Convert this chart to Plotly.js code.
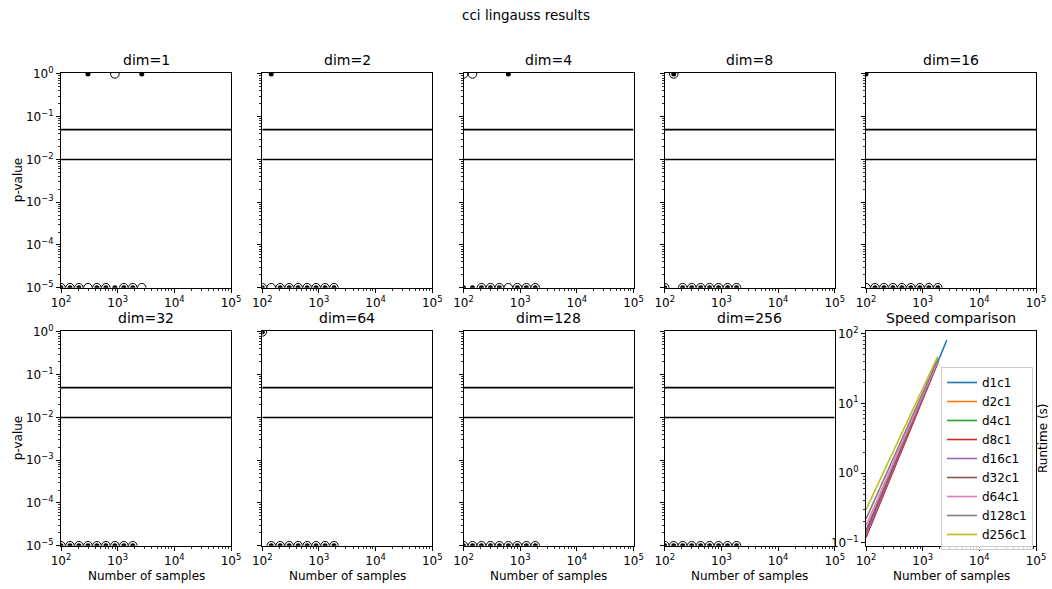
<!DOCTYPE html>
<html><head><meta charset="utf-8">
<script src="https://cdn.plot.ly/plotly-3.0.1.min.js"></script>
<style>body{margin:0;background:#fff}#chart{width:1052px;height:589px}</style>
</head><body><div id="chart"></div>
<script>
const figureTitle = 'cci lingauss results';
const panelTitles = ['dim=1','dim=2','dim=4','dim=8','dim=16','dim=32','dim=64','dim=128','dim=256'];
const speedTitle = 'Speed comparison';
const xTitle = 'Number of samples';
const pTitle = 'p-value';
const runtimeTitle = 'Runtime (s)';

// sample sizes (x)
const samples = [100, 144, 207, 299, 430, 619, 892, 1284, 1849, 2662];
// significance levels (horizontal lines)
const alphaLevels = [0.05, 0.01];

// p-values: open circles (o) and small filled dots (d) for each dimension
const oDim1   = [1e-5,1e-5,1e-5,1e-5,1e-5,1e-5,1,1e-5,1e-5,1e-5];
const dDim1   = [1e-5,1e-5,1e-5,1,1e-5,1e-5,1e-5,1e-5,1e-5,1];
const oDim2   = [1e-5,1e-5,1e-5,1e-5,1e-5,1e-5,1e-5,1e-5,1e-5];
const dDim2   = [1e-5,1,1e-5,1e-5,1e-5,1e-5,1e-5,1e-5,1e-5];
const oDim4   = [1,1,1e-5,1e-5,1e-5,1e-5,1e-5,1e-5,1e-5];
const dDim4   = [1e-5,1e-5,1e-5,1e-5,1e-5,1,1e-5,1e-5,1e-5];
const oDim8   = [1e-5,1,1e-5,1e-5,1e-5,1e-5,1e-5,1e-5,1e-5];
const dDim8   = [1e-5,1,1e-5,1e-5,1e-5,1e-5,1e-5,1e-5,1e-5];
const oDim16  = [1e-5,1e-5,1e-5,1e-5,1e-5,1e-5,1e-5,1e-5,1e-5];
const dDim16  = [1,1e-5,1e-5,1e-5,1e-5,1e-5,1e-5,1e-5,1e-5];
const oDim32  = [1e-5,1e-5,1e-5,1e-5,1e-5,1e-5,1e-5,1e-5,1e-5];
const dDim32  = [1e-5,1e-5,1e-5,1e-5,1e-5,1e-5,1e-5,1e-5,1e-5];
const oDim64  = [1,1e-5,1e-5,1e-5,1e-5,1e-5,1e-5,1e-5,1e-5];
const dDim64  = [1,1e-5,1e-5,1e-5,1e-5,1e-5,1e-5,1e-5,1e-5];
const oDim128 = [1e-5,1e-5,1e-5,1e-5,1e-5,1e-5,1e-5,1e-5,1e-5];
const dDim128 = [1e-5,1e-5,1e-5,1e-5,1e-5,1e-5,1e-5,1e-5,1e-5];
const oDim256 = [1e-5,1e-5,1e-5,1e-5,1e-5,1e-5,1e-5,1e-5,1e-5];
const dDim256 = [1e-5,1e-5,1e-5,1e-5,1e-5,1e-5,1e-5,1e-5,1e-5];

// runtimes (s) for the speed comparison
const speedLabels = ['d1c1','d2c1','d4c1','d8c1','d16c1','d32c1','d64c1','d128c1','d256c1'];
const rtD1   = [0.13, 0.27, 0.54, 1.1, 2.3, 4.6, 9.5, 19.3, 39.5, 80];
const rtD2   = [0.125, 0.26, 0.53, 1.08, 2.2, 4.5, 9.3, 19, 39];
const rtD4   = [0.13, 0.26, 0.54, 1.1, 2.25, 4.6, 9.3, 19, 38.5];
const rtD8   = [0.12, 0.25, 0.51, 1.05, 2.15, 4.4, 9.1, 18.7, 38.5];
const rtD16  = [0.13, 0.27, 0.55, 1.12, 2.3, 4.7, 9.5, 19.3, 39];
const rtD32  = [0.15, 0.3, 0.6, 1.2, 2.4, 4.85, 9.7, 19.5, 39];
const rtD64  = [0.177, 0.35, 0.69, 1.35, 2.65, 5.2, 10.3, 20.3, 40];
const rtD128 = [0.22, 0.43, 0.82, 1.58, 3.05, 5.9, 11.4, 22, 43];
const rtD256 = [0.3, 0.56, 1.06, 2.0, 3.75, 7.1, 13.3, 25, 47];
const speedColors = ['#1f77b4','#ff7f0e','#2ca02c','#d62728','#9467bd','#8c564b','#e377c2','#7f7f7f','#bcbd22'];

// tick labels
const xTickVals = [1e2, 1e3, 1e4, 1e5];
const xTickText = ['10<sup>2</sup>','10<sup>3</sup>','10<sup>4</sup>','10<sup>5</sup>'];
const pTickVals = [1e-5, 1e-4, 1e-3, 1e-2, 1e-1, 1];
const pTickText = ['10<sup>\u22125</sup>','10<sup>\u22124</sup>','10<sup>\u22123</sup>','10<sup>\u22122</sup>','10<sup>\u22121</sup>','10<sup>0</sup>'];
const rTickVals = [0.1, 1, 10, 100];
const rTickText = ['10<sup>\u22121</sup>','10<sup>0</sup>','10<sup>1</sup>','10<sup>2</sup>'];

const openSets = [oDim1,oDim2,oDim4,oDim8,oDim16,oDim32,oDim64,oDim128,oDim256];
const dotSets  = [dDim1,dDim2,dDim4,dDim8,dDim16,dDim32,dDim64,dDim128,dDim256];
const runtimes = [rtD1,rtD2,rtD4,rtD8,rtD16,rtD32,rtD64,rtD128,rtD256];

const W = 1052, H = 589;
const px = v => v / W;
const py = v => 1 - v / H;
const colLeft = [61, 262.25, 463.5, 664.75, 866];
const colW = 170;
const rowTop = [72.7, 330.7];
const rowH = 215;
const FONT = 'DejaVu Sans, sans-serif';

function minorVals(lo, hi) {
  const out = [];
  for (let e = lo; e < hi; e++) for (let m = 2; m <= 9; m++) out.push(m * Math.pow(10, e));
  return out;
}

const traces = [];
const layout = {
  width: W, height: H,
  margin: {l:0, r:0, t:0, b:0},
  paper_bgcolor: '#fff', plot_bgcolor: '#fff',
  font: {family: FONT, size: 11, color: '#000'},
  showlegend: true,
  legend: {x: px(941), y: py(367), xanchor: 'left', yanchor: 'top',
    bgcolor: 'rgba(255,255,255,0.8)', bordercolor: '#cccccc', borderwidth: 1,
    font: {family: FONT, size: 12, color: '#000'}, itemwidth: 30, tracegroupgap: 0},
  annotations: [],
};

function axisBase(extra) {
  return Object.assign({
    type: 'log', showgrid: false, zeroline: false,
    showline: true, mirror: true, linecolor: '#000', linewidth: 1,
    ticks: 'outside', ticklen: 4, tickwidth: 1, tickcolor: '#000',
    tickfont: {family: FONT, size: 12, color: '#000'},
    tickmode: 'array',
  }, extra);
}

for (let i = 0; i < 10; i++) {
  const row = i < 5 ? 0 : 1, col = i % 5;
  const n = i + 1;
  const xa = 'xaxis' + (n === 1 ? '' : n), ya = 'yaxis' + (n === 1 ? '' : n);
  const xr = 'x' + (n === 1 ? '' : n), yr = 'y' + (n === 1 ? '' : n);
  const isSpeed = i === 9;
  layout[xa] = axisBase({
    domain: [px(colLeft[col]), px(colLeft[col] + colW)],
    anchor: yr, range: [2, 5],
    tickvals: xTickVals, ticktext: xTickText,
    minor: {tickmode: 'array', tickvals: minorVals(2, 5), ticks: 'outside', ticklen: 2, tickwidth: 0.8, tickcolor: '#000', showgrid: false},
  });
  layout[ya] = axisBase({
    domain: [py(rowTop[row] + rowH), py(rowTop[row])],
    anchor: xr,
    range: isSpeed ? [-1.04, 2.04] : [-5, 0.03],
    tickvals: isSpeed ? rTickVals : pTickVals,
    ticktext: isSpeed ? rTickText : pTickText,
    showticklabels: isSpeed || col === 0,
    minor: {tickmode: 'array', tickvals: isSpeed ? minorVals(-2, 2) : minorVals(-5, 0), ticks: 'outside', ticklen: 2, tickwidth: 0.8, tickcolor: '#000', showgrid: false},
  });
  // panel title
  layout.annotations.push({
    xref: 'paper', yref: 'paper', x: px(colLeft[col] + colW / 2), y: py(rowTop[row] - 3),
    xanchor: 'center', yanchor: 'bottom', showarrow: false,
    text: isSpeed ? speedTitle : panelTitles[i], font: {family: FONT, size: 14, color: '#000'}
  });
  if (row === 1) {
    layout.annotations.push({
      xref: 'paper', yref: 'paper', x: px(colLeft[col] + colW / 2), y: py(576),
      xanchor: 'center', yanchor: 'middle', showarrow: false,
      text: xTitle, font: {family: FONT, size: 12, color: '#000'}
    });
  }
  if (col === 0) {
    layout.annotations.push({
      xref: 'paper', yref: 'paper', x: px(18), y: py(rowTop[row] + rowH / 2),
      xanchor: 'center', yanchor: 'middle', showarrow: false, textangle: -90,
      text: pTitle, font: {family: FONT, size: 12, color: '#000'}
    });
  }

  if (isSpeed) {
    runtimes.forEach((rt, k) => {
      traces.push({
        type: 'scatter', mode: 'lines', xaxis: xr, yaxis: yr,
        x: samples.slice(0, rt.length), y: rt, name: speedLabels[k],
        line: {color: speedColors[k], width: 1.6}, showlegend: true
      });
    });
  } else {
    alphaLevels.forEach(a => {
      traces.push({
        type: 'scatter', mode: 'lines', xaxis: xr, yaxis: yr,
        x: [xTickVals[0], xTickVals[xTickVals.length - 1]], y: [a, a],
        line: {color: '#000', width: 1.6}, showlegend: false, hoverinfo: 'skip'
      });
    });
    const oy = openSets[i], dy = dotSets[i];
    traces.push({
      type: 'scatter', mode: 'markers', xaxis: xr, yaxis: yr,
      x: samples.slice(0, oy.length), y: oy, showlegend: false,
      marker: {symbol: 'circle', size: 8.5, color: '#fff', line: {color: '#000', width: 1}}
    });
    traces.push({
      type: 'scatter', mode: 'markers', xaxis: xr, yaxis: yr,
      x: samples.slice(0, dy.length), y: dy, showlegend: false,
      marker: {symbol: 'circle', size: 5, color: '#000', line: {width: 0}}
    });
  }
}

layout.annotations.push({
  xref: 'paper', yref: 'paper', x: 0.5, y: py(15), xanchor: 'center', yanchor: 'middle',
  showarrow: false, text: figureTitle, font: {family: FONT, size: 13.5, color: '#000'}
});
layout.annotations.push({
  xref: 'paper', yref: 'paper', x: px(1043), y: py(438), xanchor: 'center', yanchor: 'middle',
  showarrow: false, textangle: -90, text: runtimeTitle, font: {family: FONT, size: 12, color: '#000'}
});

Plotly.newPlot('chart', traces, layout, {displayModeBar: false, staticPlot: true});
</script></body></html>
